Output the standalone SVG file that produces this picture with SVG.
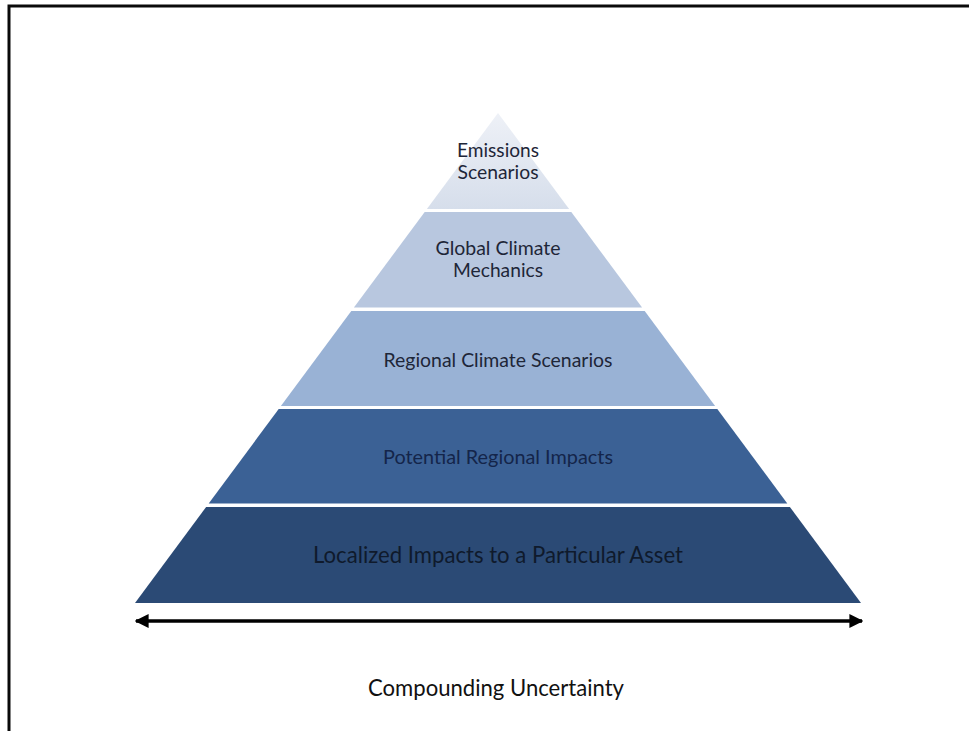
<svg xmlns="http://www.w3.org/2000/svg" width="969" height="731" viewBox="0 0 969 731">
<style>
.t{font-family:Lato,"Open Sans","Liberation Sans",sans-serif;text-anchor:middle;font-size:20px;fill:#1e2638}
.big{font-size:23px}
.d4{fill:#14254a}
.d5{fill:#0f1a2c;font-size:23px}
.frame{fill:none;stroke:#0a0a0a;stroke-width:3}
.conn{stroke:#000;stroke-width:3.5;fill:none}
</style>
<defs>
<linearGradient id="g1" x1="0" y1="0" x2="0" y2="1">
<stop offset="0" stop-color="#eef1f7"/>
<stop offset="1" stop-color="#d6deeb"/>
</linearGradient>
<marker id="ah" viewBox="0 0 10 10" refX="9" refY="5" markerWidth="4" markerHeight="4" orient="auto-start-reverse" markerUnits="strokeWidth">
<path d="M0,0 L10,5 L0,10 z" fill="#000"/>
</marker>
</defs>
<rect width="969" height="731" fill="#fff"/>
<path class="frame" d="M969,6 H9 V731"/>
<g id="tier1">
<polygon points="498,113 569.1,209 426.9,209" fill="url(#g1)"/>
<text class="t" x="498" y="157" textLength="82" lengthAdjust="spacingAndGlyphs">Emissions</text>
<text class="t" x="498" y="179" textLength="81" lengthAdjust="spacingAndGlyphs">Scenarios</text>
</g>
<g id="tier2">
<polygon points="424.7,212 571.3,212 642.1,307.5 353.9,307.5" fill="#b8c7df"/>
<text class="t" x="498" y="255" textLength="125" lengthAdjust="spacingAndGlyphs">Global Climate</text>
<text class="t" x="498" y="277" textLength="90" lengthAdjust="spacingAndGlyphs">Mechanics</text>
</g>
<g id="tier3">
<polygon points="351.3,311 644.7,311 715.1,406 280.9,406" fill="#99b2d5"/>
<text class="t" x="498" y="367" textLength="229" lengthAdjust="spacingAndGlyphs">Regional Climate Scenarios</text>
</g>
<g id="tier4">
<polygon points="278.7,409 717.3,409 787.3,503.5 208.7,503.5" fill="#3b6195"/>
<text class="t d4" x="498" y="464" textLength="230" lengthAdjust="spacingAndGlyphs">Potential Regional  Impacts</text>
</g>
<g id="tier5">
<polygon points="206.1,507 789.9,507 861,603 135,603" fill="#2b4a75"/>
<text class="t d5" x="498" y="563" textLength="370" lengthAdjust="spacingAndGlyphs">Localized Impacts to a Particular Asset</text>
</g>
<g id="connectors">
<line class="conn" x1="136" y1="621" x2="862" y2="621" marker-start="url(#ah)" marker-end="url(#ah)"/>
</g>
<g id="label">
<text class="t big" x="496" y="696" fill="#111" style="fill:#111" textLength="256" lengthAdjust="spacingAndGlyphs">Compounding Uncertainty</text>
</g>
</svg>
